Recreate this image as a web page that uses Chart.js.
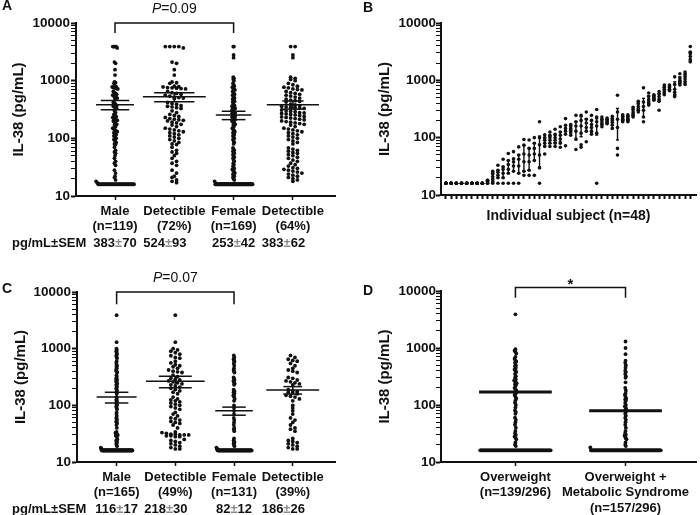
<!DOCTYPE html>
<html>
<head>
<meta charset="utf-8">
<script src="https://cdn.jsdelivr.net/npm/chart.js@4.4.1/dist/chart.umd.min.js"></script>
<style>
  body { margin: 0; background: #fff; }
  #wrap { position: relative; width: 700px; height: 515px; }
  canvas { position: absolute; }
</style>
</head>
<body>
<div id="wrap">
  <canvas id="cA" width="350" height="255" style="left:0px;top:0px"></canvas>
  <canvas id="cB" width="350" height="255" style="left:350px;top:0px"></canvas>
  <canvas id="cC" width="350" height="255" style="left:0px;top:260px"></canvas>
  <canvas id="cD" width="350" height="255" style="left:350px;top:260px"></canvas>
</div>
<script>
// ---- data ----
const LOD = 16; // undetectable samples sit at the detection limit
const yMajors = [10, 100, 1000, 10000];

// Panel A
const catA = [['Male', '(n=119)'], ['Detectible', '(72%)'], ['Female', '(n=169)'], ['Detectible', '(64%)']];
const semTextA = ['383±70', '524±93', '253±42', '383±62'];
const maleDetA = [3900, 3900, 3900, 3900, 3700, 2100, 2000, 1550, 1250, 950, 920, 900, 800, 790, 780, 760, 750, 740, 730, 720,
  650, 620, 600, 580, 560, 540, 520, 510, 500, 490, 420, 400, 390, 370, 360, 350, 340, 330, 300, 280,
  260, 250, 240, 230, 220, 215, 210, 205, 200, 190, 185, 175, 170, 160, 150, 145, 140, 135, 130, 125,
  120, 115, 110, 105, 100, 95, 90, 85, 80, 78, 70, 62, 58, 55, 50, 45, 40, 37, 34, 28, 25, 22, 21, 19, 18, 17];
const femaleDetA = [3900, 3900, 2800, 2500, 1150, 1100, 1050, 1000, 900, 850, 800, 770, 750, 720, 700, 690, 650,
  620, 600, 580, 560, 540, 520, 500, 480, 460, 450, 440, 425, 390, 380, 370, 360, 350, 345, 340, 335, 330,
  310, 300, 295, 290, 280, 275, 270, 265, 260, 255, 250, 240, 235, 230, 225, 220, 215, 210, 200, 195, 190,
  185, 180, 175, 170, 160, 150, 145, 140, 135, 130, 125, 120, 115, 110, 105, 100, 95, 90, 85, 80,
  68, 65, 62, 60, 57, 55, 52, 50, 47, 45, 42, 40, 37, 35, 33, 31, 30, 29, 28, 27, 26, 25, 24, 23, 22, 21, 20, 19, 18];
const lodCountA = [33, 61];
const meanA = [383, 524, 253, 383];
const semA = [70, 93, 42, 62];

// Panel B: replicate values, and error bar ends, per subject
const subjPts = [
  [16, 16, 16, 16, 16, 16], [16, 16, 16, 16, 16, 16], [16, 16, 16, 16, 16, 16], [16, 16, 16, 16, 16, 16],
  [16, 16, 16, 16, 16, 16], [16, 16, 16, 16, 16, 16], [16, 16, 16, 16, 16, 16], [16, 16, 16, 16, 16, 16],
  [16, 16, 17, 17, 18, 18], [16, 17, 19, 21, 24, 26], [16, 20, 22, 25, 27, 33], [16, 20, 24, 28, 31, 42],
  [16, 24, 28, 34, 40, 53], [16, 26, 32, 38, 43, 57], [16, 24, 32, 42, 50, 69], [22, 26, 38, 52, 74, 93],
  [22, 27, 38, 50, 65, 91], [22, 40, 52, 65, 80, 100], [16, 30, 50, 75, 100, 190], [52, 70, 80, 90, 100, 112],
  [70, 80, 90, 100, 110, 125], [70, 80, 90, 100, 115, 140], [68, 80, 95, 110, 125, 155], [72, 115, 130, 145, 165, 215],
  [110, 125, 135, 145, 160, 170], [62, 95, 130, 160, 190, 245], [68, 75, 120, 160, 200, 245], [85, 130, 150, 180, 210, 280],
  [115, 130, 150, 170, 200, 245], [16, 120, 160, 190, 230, 310], [155, 170, 180, 195, 210, 230], [175, 180, 190, 200, 210, 220],
  [145, 165, 185, 200, 215, 235], [50, 65, 150, 210, 280, 550], [190, 200, 210, 220, 235, 250], [190, 200, 210, 220, 235, 250],
  [230, 245, 260, 280, 310, 340], [280, 300, 320, 350, 390, 430], [190, 230, 300, 350, 420, 740], [370, 390, 420, 460, 520, 600],
  [450, 470, 490, 510, 540, 560], [300, 430, 470, 520, 580, 640], [560, 600, 650, 700, 760, 830], [660, 680, 700, 740, 780, 830],
  [520, 560, 620, 700, 850, 1150], [830, 900, 950, 1000, 1100, 1300], [850, 950, 1050, 1150, 1250, 1400], [2100, 2300, 2600, 2900, 3100, 3900]
];
const subjLo = [null, null, null, null, null, null, null, null, 16.5, 17.5, 20, 20, 24, 26, 24, 26, 27, 40, 29, 72,
  80, 82, 85, 115, 120, 91, 104, 128, 125, 111, 170, 180, 170, 91, 200, 200, 245, 300, 230, 390,
  470, 430, 590, 680, 560, 880, 900, 2150];
const subjHi = [null, null, null, null, null, null, null, null, 18, 23, 27, 31, 40, 43, 50, 74, 65, 80, 107, 98,
  105, 110, 125, 165, 160, 190, 232, 215, 200, 215, 210, 210, 215, 324, 235, 235, 310, 400, 485, 540,
  540, 580, 760, 790, 940, 1150, 1300, 3150];

// Panel C
const catC = [['Male', '(n=165)'], ['Detectible', '(49%)'], ['Female', '(n=131)'], ['Detectible', '(39%)']];
const semTextC = ['116±17', '218±30', '82±12', '186±26'];
const maleDetC = [3900, 1300, 1000, 950, 900, 850, 800, 750, 700, 680, 600, 560, 520, 500, 480, 450, 420, 400, 390, 380,
  340, 320, 300, 290, 280, 270, 260, 250, 240, 230, 220, 210, 200, 190, 180, 170, 160,
  140, 130, 125, 120, 115, 110, 105, 100, 95, 90, 85, 75, 70, 65, 60, 58, 55, 52, 50, 48, 45, 40,
  34, 33, 32, 31, 31, 30, 30, 30, 29, 29, 28, 28, 25, 24, 23, 22, 21, 20, 19, 18, 17, 17];
const femaleDetC = [760, 700, 650, 620, 600, 550, 500, 450, 420, 400, 380, 310, 300, 280, 270, 260, 250, 240, 230,
  190, 180, 175, 170, 165, 160, 150, 145, 140, 130, 120, 100, 90, 80, 70, 60, 55, 50, 45, 40, 38, 35,
  26, 24, 23, 22, 21, 20, 19, 18, 17, 17];
const lodCountC = [84, 80];
const meanC = [140, 265, 80, 186];
const semC = [30, 60, 13, 28];

// Panel D
const catD = [['Overweight', '(n=139/296)'], ['Overweight +', 'Metabolic Syndrome', '(n=157/296)']];
const owDetD = [3900, 950, 900, 850, 800, 700, 650, 600, 580, 550, 500, 480, 450, 420, 400, 380, 350, 320, 300, 280, 270,
  260, 250, 240, 230, 220, 200, 190, 180, 170, 160, 150, 140, 130, 120, 110, 100, 90, 80, 75, 70,
  60, 55, 50, 45, 40, 35, 32, 30, 28, 27, 25, 22, 20, 19];
const owMsDetD = [1300, 1000, 780, 600, 550, 500, 450, 400, 380, 350, 320, 300, 250, 200, 180, 160, 150, 140, 130, 125,
  120, 110, 100, 95, 90, 85, 80, 75, 70, 65, 60, 55, 50, 45, 40, 35, 32, 30, 29, 28, 26, 25, 22, 20, 19, 18];
const lodCountD = [84, 111];
const meanD = [169, 79];

// ---- drawing ----
const FONT = "'Liberation Sans', Arial, sans-serif";
const INK = '#111';
Chart.defaults.font.family = FONT;
Chart.defaults.color = INK;

const yTicks = [];
yMajors.slice(0, -1).forEach(d => { for (let m = 1; m < 10; m++) yTicks.push(d * m); });
yTicks.push(yMajors[yMajors.length - 1]);

const withLod = (vals, n) => vals.concat(new Array(n).fill(LOD));

// column scatter: values sharing a row are spread sideways, squeezed to fit the column
function swarm(vals, cx, hw, step) {
  const rows = new Map();
  vals.forEach(v => {
    const k = Math.round(Math.log10(v) / 0.065);
    if (!rows.has(k)) rows.set(k, []);
    rows.get(k).push(v);
  });
  let maxN = 1;
  rows.forEach(r => { maxN = Math.max(maxN, r.length); });
  const sp = maxN > 1 ? Math.min(step, 2 * hw / (maxN - 1)) : 0;
  const pts = [];
  rows.forEach(r => r.forEach((v, j) => pts.push({ x: cx + (j - (r.length - 1) / 2) * sp, y: v })));
  return pts;
}

function seg(x0, y0, x1, y1, w) {
  return { type: 'scatter', data: [{ x: x0, y: y0 }, { x: x1, y: y1 }], showLine: true,
    borderColor: INK, borderWidth: w, pointRadius: 0, fill: false };
}

function dots(data, r) {
  return { type: 'scatter', data, pointRadius: r, backgroundColor: INK, borderColor: INK, borderWidth: 0 };
}

function yAxis(width, titlePad, tickPad) {
  return {
    type: 'logarithmic', min: 10, max: 10000,
    afterBuildTicks: s => { s.ticks = yTicks.map(v => ({ value: v })); },
    afterFit: s => { s.width = width; },
    ticks: { autoSkip: false, padding: tickPad, color: INK,
      font: { size: 13.5, weight: 'bold' },
      callback: v => (yMajors.includes(v) ? String(v) : '') },
    grid: { drawOnChartArea: false, color: INK, tickLength: 5,
      tickWidth: c => (c.tick && yMajors.includes(c.tick.value) ? 2 : 1) },
    border: { color: INK, width: 2 },
    title: { display: true, text: 'IL-38 (pg/mL)', color: INK,
      font: { size: 15, weight: 'bold' }, padding: { top: titlePad, bottom: 0 } }
  };
}

function xCatAxis(min, max, cats, height) {
  return {
    type: 'linear', min, max,
    afterBuildTicks: s => { s.ticks = cats.map((c, i) => ({ value: i + 1 })); },
    afterFit: s => { s.height = height; },
    ticks: { autoSkip: false, maxRotation: 0, padding: 4, color: INK,
      font: { size: 13, weight: 'bold', lineHeight: 1.17 },
      callback: (v, i) => cats[i] },
    grid: { drawOnChartArea: false, color: INK, tickLength: 4, tickWidth: 1.5 },
    border: { color: INK, width: 2 }
  };
}

// brackets, p-values, SEM row and panel letter
function annot(o) {
  return {
    id: 'annot',
    afterDraw(chart) {
      const { ctx } = chart;
      const x = chart.scales.x, y = chart.scales.y;
      ctx.save();
      ctx.fillStyle = INK;
      ctx.strokeStyle = INK;
      ctx.font = `bold 14px ${FONT}`;
      ctx.textBaseline = 'alphabetic';
      ctx.textAlign = 'left';
      ctx.fillText(o.letter, o.letterX, o.letterY);

      if (o.bracket) {
        const b = o.bracket;
        const x0 = x.getPixelForValue(b.from), x1 = x.getPixelForValue(b.to);
        const yt = y.getPixelForValue(b.top), yb = y.getPixelForValue(b.drop);
        ctx.lineWidth = 1.5;
        ctx.beginPath();
        ctx.moveTo(x0, yb); ctx.lineTo(x0, yt); ctx.lineTo(x1, yt); ctx.lineTo(x1, yb);
        ctx.stroke();
        const mid = (x0 + x1) / 2;
        if (b.p) {
          ctx.textBaseline = 'middle';
          ctx.font = `italic 14px ${FONT}`;
          const wp = ctx.measureText('P').width;
          ctx.font = `14px ${FONT}`;
          const wr = ctx.measureText(b.p).width;
          const sx = mid - (wp + wr) / 2;
          ctx.font = `italic 14px ${FONT}`;
          ctx.fillText('P', sx, yt - 13.5);
          ctx.font = `14px ${FONT}`;
          ctx.fillText(b.p, sx + wp, yt - 13.5);
        } else {
          ctx.textAlign = 'center';
          ctx.textBaseline = 'alphabetic';
          ctx.font = `bold 15px ${FONT}`;
          ctx.fillText('*', mid, yt + 1);
          ctx.textAlign = 'left';
        }
      }

      if (o.stats) {
        ctx.textBaseline = 'middle';
        ctx.font = `bold 13px ${FONT}`;
        ctx.fillText('pg/mL±SEM', 12, o.statsY);
        o.stats.forEach((s, i) => {
          const [a, b] = s.split('±');
          const wa = ctx.measureText(a).width, wpm = ctx.measureText('±').width, wb = ctx.measureText(b).width;
          const cx = x.getPixelForValue(i + 1);
          const lw = ctx.measureText(o.cats[i][0]).width;
          const sx = o.leftAlign[i] ? cx - lw / 2 : cx - (wa + wpm + wb) / 2;
          ctx.fillStyle = INK;
          ctx.fillText(a, sx, o.statsY);
          ctx.fillStyle = '#8a8a8a';
          ctx.fillText('±', sx + wa, o.statsY);
          ctx.fillStyle = INK;
          ctx.fillText(b, sx + wa + wpm, o.statsY);
        });
      }
      ctx.restore();
    }
  };
}

function catPanel(id, o) {
  const ds = [];
  o.means.forEach((m, i) => {
    const cx = i + 1;
    ds.push(seg(cx - o.meanHw[i], m, cx + o.meanHw[i], m, o.lineW));
    if (o.sems) {
      const s = o.sems[i];
      ds.push(seg(cx - o.semHw[i], m + s, cx + o.semHw[i], m + s, o.lineW));
      ds.push(seg(cx - o.semHw[i], m - s, cx + o.semHw[i], m - s, o.lineW));
      ds.push(seg(cx, m - s, cx, m + s, o.lineW));
    }
  });
  o.cols.forEach((vals, i) => ds.push(dots(swarm(vals, i + 1, o.colHw[i], o.step), 1.9)));

  return new Chart(document.getElementById(id), {
    type: 'scatter',
    data: { datasets: ds },
    options: {
      responsive: false, animation: false, events: [],
      layout: { padding: { top: o.top, right: o.right, left: 0, bottom: 0 } },
      plugins: { legend: { display: false }, tooltip: { enabled: false } },
      scales: {
        x: xCatAxis(o.xMin, o.xMax, o.cats, o.xH),
        y: yAxis(o.yW, o.titlePad, o.tickPad)
      }
    },
    plugins: [annot(o)]
  });
}

// Panel A
catPanel('cA', {
  cats: catA, stats: semTextA, statsY: 243, leftAlign: [false, true, false, true],
  cols: [withLod(maleDetA, lodCountA[0]), maleDetA, withLod(femaleDetA, lodCountA[1]), femaleDetA],
  colHw: [0.32, 0.33, 0.32, 0.34], step: 0.076,
  means: meanA, sems: semA, meanHw: [0.32, 0.53, 0.3, 0.44], semHw: [0.24, 0.34, 0.2, 0.18], lineW: 1.5,
  xMin: 0.342, xMax: 4.71, top: 23, right: 15, xH: 59, yW: 76, titlePad: 10, tickPad: 1,
  bracket: { from: 1, to: 3, top: 10000, drop: 6700, p: '=0.09' },
  letter: 'A', letterX: 2, letterY: 10
});

// Panel C
catPanel('cC', {
  cats: catC, stats: semTextC, statsY: 249, leftAlign: [false, true, false, true],
  cols: [withLod(maleDetC, lodCountC[0]), maleDetC, withLod(femaleDetC, lodCountC[1]), femaleDetC],
  colHw: [0.27, 0.33, 0.3, 0.26], step: 0.076,
  means: meanC, sems: semC, meanHw: [0.34, 0.5, 0.32, 0.45], semHw: [0.2, 0.28, 0.2, 0.16], lineW: 1.5,
  xMin: 0.325, xMax: 4.72, top: 32, right: 15, xH: 53, yW: 77, titlePad: 12, tickPad: 1,
  bracket: { from: 1, to: 3, top: 10000, drop: 6100, p: '=0.07' },
  letter: 'C', letterX: 2, letterY: 33
});

// Panel D
catPanel('cD', {
  cats: catD, stats: null,
  cols: [withLod(owDetD, lodCountD[0]), withLod(owMsDetD, lodCountD[1])],
  colHw: [0.32, 0.32], step: 0.041,
  means: meanD, sems: null, meanHw: [0.33, 0.33], lineW: 3,
  xMin: 0.324, xMax: 2.64, top: 31, right: 2, xH: 53, yW: 91, titlePad: 26, tickPad: 0,
  bracket: { from: 1, to: 2, top: 11500, drop: 7600, p: null },
  letter: 'D', letterX: 13, letterY: 35
});

// Panel B
(function () {
  const ds = [];
  subjPts.forEach((p, i) => {
    if (subjLo[i] === null) return;
    ds.push(seg(i, subjLo[i], i, subjHi[i], 1.4));
    ds.push(seg(i - 0.3, subjLo[i], i + 0.3, subjLo[i], 1.4));
    ds.push(seg(i - 0.3, subjHi[i], i + 0.3, subjHi[i], 1.4));
  });
  const pts = [];
  subjPts.forEach((p, i) => p.forEach(v => pts.push({ x: i, y: v })));
  ds.push(dots(pts, 1.8));

  new Chart(document.getElementById('cB'), {
    type: 'scatter',
    data: { datasets: ds },
    options: {
      responsive: false, animation: false, events: [],
      layout: { padding: { top: 23, right: 0, left: 0, bottom: 0 } },
      plugins: { legend: { display: false }, tooltip: { enabled: false } },
      scales: {
        x: {
          type: 'linear', min: -0.95, max: 48.1,
          afterBuildTicks: s => { s.ticks = subjPts.map((p, i) => ({ value: i })); },
          afterFit: s => { s.height = 60; },
          ticks: { autoSkip: false, maxRotation: 0, callback: () => '' },
          grid: { drawOnChartArea: false, color: INK, tickLength: 4, tickWidth: 2 },
          border: { color: INK, width: 2 },
          title: { display: true, text: 'Individual subject (n=48)', color: INK,
            font: { size: 14, weight: 'bold' }, padding: { top: 0, bottom: 30 } }
        },
        y: yAxis(91, 26, 0)
      }
    },
    plugins: [annot({ letter: 'B', letterX: 13, letterY: 12 })]
  });
})();
</script>
</body>
</html>
